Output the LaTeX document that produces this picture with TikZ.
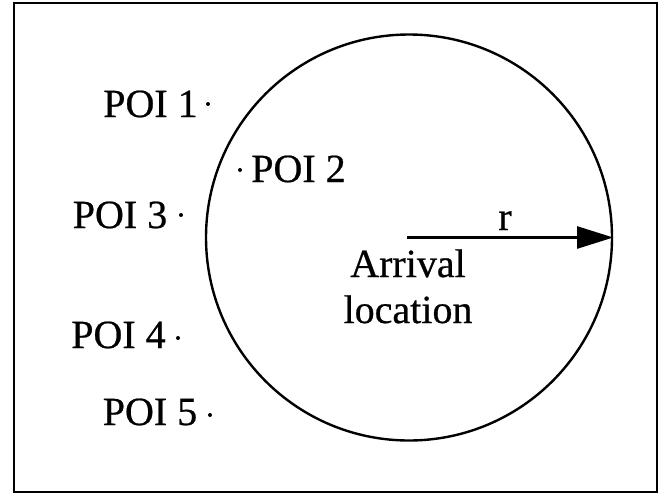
\documentclass[tikz,border=0pt]{standalone}
\usepackage{fontspec}
\setmainfont[FakeBold=0.6]{Liberation Serif}
\usetikzlibrary{arrows.meta}
\begin{document}
\begin{tikzpicture}[x=1pt,y=-1pt,
  label text/.style={inner sep=0pt, anchor=base, font=\fontsize{40}{48}\selectfont},
  poi dot/.style={circle, fill=black, inner sep=0pt, minimum size=4pt},
  radius arrow/.style={line width=2.4pt, -{Triangle[length=36pt,width=22pt]}},
  frame line/.style={line width=2.4pt}]
  \useasboundingbox (0,0) rectangle (661,493);
  % outer frame
  \draw[frame line] (14,3) rectangle (657,492);
  % coverage circle around the arrival location
  \node[draw, circle, line width=2.4pt, minimum size=406pt, inner sep=0pt] (zone) at (409,237.5) {};
  \coordinate (origin) at (407,237.5);
  \draw[radius arrow] (origin) -- (zone.east);
  \node[label text] (rlabel) at (505,230) {r};
  \node[label text] (arrival) at (408,277) {Arrival};
  \node[label text] (location) at (408,323) {location};
  % points of interest
  \node[label text] (poi1) at (150.5,117) {POI 1};
  \node[poi dot] (poi1dot) at (208,104) {};
  \node[label text] (poi2) at (298.5,182) {POI 2};
  \node[poi dot] (poi2dot) at (240,170) {};
  \node[label text] (poi3) at (120,228) {POI 3};
  \node[poi dot] (poi3dot) at (181,215) {};
  \node[label text] (poi4) at (118.5,348) {POI 4};
  \node[poi dot] (poi4dot) at (178,338) {};
  \node[label text] (poi5) at (150,425) {POI 5};
  \node[poi dot] (poi5dot) at (210,415) {};
\end{tikzpicture}
\end{document}
